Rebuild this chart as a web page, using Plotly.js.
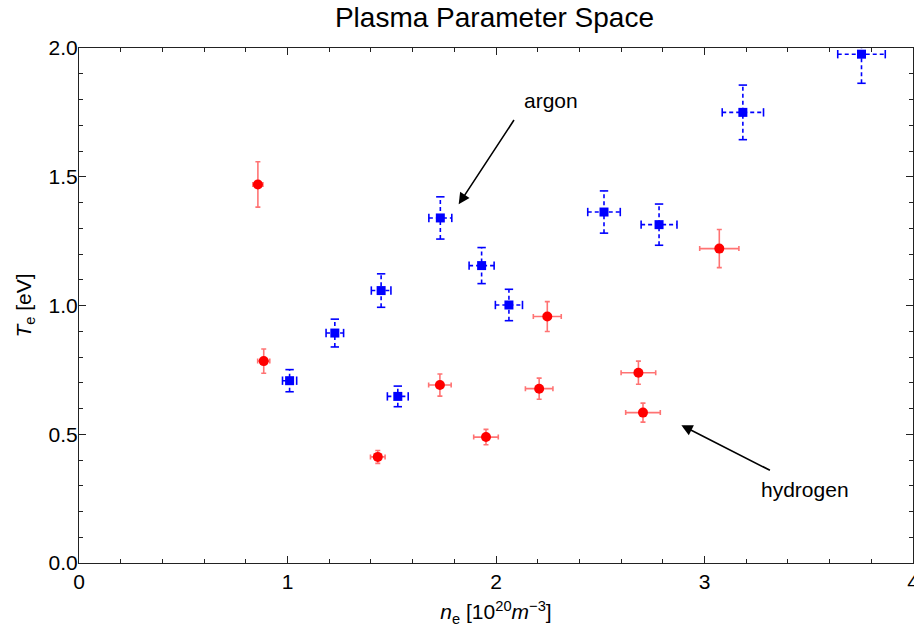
<!DOCTYPE html>
<html>
<head>
<meta charset="utf-8">
<script src="https://cdn.plot.ly/plotly-3.0.1.min.js"></script>
<style>
html,body{margin:0;padding:0;background:#fff;}
#chart{width:914px;height:630px;}
</style>
</head>
<body>
<div id="chart"></div>
<script>
// hydrogen (red circles)
const hX  = [0.858, 0.886, 1.433, 1.731, 1.952, 2.207, 2.246, 2.683, 2.705, 3.071];
const hY  = [1.470, 0.784, 0.412, 0.691, 0.489, 0.677, 0.957, 0.739, 0.584, 1.221];
const hEx = [0.024, 0.029, 0.035, 0.054, 0.059, 0.066, 0.067, 0.083, 0.083, 0.094];
const hEy = [0.088, 0.047, 0.025, 0.043, 0.030, 0.041, 0.058, 0.045, 0.037, 0.074];

// argon (blue squares)
const aX  = [1.010, 1.227, 1.449, 1.529, 1.733, 1.931, 2.062, 2.518, 2.782, 3.184, 3.753];
const aY  = [0.708, 0.893, 1.058, 0.647, 1.340, 1.155, 1.002, 1.363, 1.314, 1.750, 1.976];
const aEx = [0.034, 0.042, 0.047, 0.050, 0.055, 0.060, 0.065, 0.078, 0.086, 0.099, 0.114];
const aEy = [0.043, 0.054, 0.065, 0.040, 0.082, 0.070, 0.061, 0.082, 0.080, 0.106, 0.113];

const xTickVals = [0, 1, 2, 3, 4];
const yTickVals = [0, 0.5, 1.0, 1.5, 2.0];

const FONT = '"Liberation Sans", Arial, sans-serif';
const BLUE = '#0000ff';
const RED = '#ff0000';

// dashed error segments for argon, built from the data arrays
const segX = [], segY = [];
aX.forEach((x, i) => {
  const y = aY[i];
  segX.push(x - aEx[i], x + aEx[i], null, x, x, null);
  segY.push(y, y, null, y - aEy[i], y + aEy[i], null);
});
const capHX = [], capHY = [], capVX = [], capVY = [];
aX.forEach((x, i) => {
  const y = aY[i];
  capHX.push(x - aEx[i], x + aEx[i]); capHY.push(y, y);
  capVX.push(x, x); capVY.push(y - aEy[i], y + aEy[i]);
});

const traces = [
  {
    type: 'scatter', mode: 'lines', x: segX, y: segY,
    line: {color: BLUE, width: 1.6, dash: '4px,3px'},
    hoverinfo: 'skip', showlegend: false
  },
  {
    type: 'scatter', mode: 'markers', x: capHX, y: capHY,
    marker: {symbol: 'line-ns', size: 6, line: {color: BLUE, width: 1.6}},
    hoverinfo: 'skip', showlegend: false
  },
  {
    type: 'scatter', mode: 'markers', x: capVX, y: capVY,
    marker: {symbol: 'line-ew', size: 6, line: {color: BLUE, width: 1.6}},
    hoverinfo: 'skip', showlegend: false
  },
  {
    type: 'scatter', mode: 'markers', name: 'argon', x: aX, y: aY,
    marker: {symbol: 'square', size: 9, color: BLUE},
    showlegend: false
  },
  {
    type: 'scatter', mode: 'markers', name: 'hydrogen', x: hX, y: hY,
    marker: {symbol: 'circle', size: 10, color: RED},
    error_x: {type: 'data', array: hEx, visible: true, color: 'rgba(255,0,0,0.55)', thickness: 1.6, width: 2.5},
    error_y: {type: 'data', array: hEy, visible: true, color: 'rgba(255,0,0,0.55)', thickness: 1.6, width: 2.5},
    showlegend: false
  }
];

const axisCommon = {
  showline: true, linecolor: '#222', linewidth: 1, mirror: 'ticks',
  ticks: 'inside', ticklen: 7, tickwidth: 1, tickcolor: '#222',
  showgrid: false, zeroline: false, ticklabeloverflow: 'allow',
  tickfont: {family: FONT, size: 21, color: '#000'}
};

const layout = {
  width: 914, height: 630,
  margin: {l: 79, r: 1, t: 48, b: 67, pad: 0},
  paper_bgcolor: '#fff', plot_bgcolor: '#fff',
  title: {
    text: 'Plasma Parameter Space',
    font: {family: FONT, size: 28, color: '#000'},
    x: 0.541, xanchor: 'center', xref: 'container',
    y: 0.973, yanchor: 'middle', yref: 'container'
  },
  xaxis: Object.assign({}, axisCommon, {
    range: [0, 4], tickvals: xTickVals, ticktext: xTickVals.map(v => String(v)),
    minor: {dtick: 0.2, ticks: 'inside', ticklen: 4, tickcolor: '#222', tickwidth: 1},
    title: {text: '<i>n</i><sub>e</sub> [10<sup>20</sup><i>m</i><sup>−3</sup>]',
            font: {family: FONT, size: 21, color: '#000'}, standoff: 12}
  }),
  yaxis: Object.assign({}, axisCommon, {
    range: [0, 2], tickvals: yTickVals, ticktext: yTickVals.map(v => v.toFixed(1)),
    ticklabelstandoff: -4,
    minor: {dtick: 0.1, ticks: 'inside', ticklen: 4, tickcolor: '#222', tickwidth: 1},
    title: {text: '<i>T</i><sub>e</sub> [eV]',
            font: {family: FONT, size: 21, color: '#000'}, standoff: 11}
  }),
  annotations: [
    {x: 1.821, y: 1.393, ax: 2.091, ay: 1.726, xref: 'x', yref: 'y', axref: 'x', ayref: 'y',
     text: '', showarrow: true, arrowhead: 2, arrowsize: 1.4, arrowwidth: 1.6, arrowcolor: '#000', standoff: 0},
    {x: 2.262, y: 1.797, xref: 'x', yref: 'y', text: 'argon', showarrow: false,
     font: {family: FONT, size: 21, color: '#000'}, xanchor: 'center', yanchor: 'middle'},
    {x: 2.889, y: 0.535, ax: 3.321, ay: 0.357, xref: 'x', yref: 'y', axref: 'x', ayref: 'y',
     text: '', showarrow: true, arrowhead: 2, arrowsize: 1.4, arrowwidth: 1.6, arrowcolor: '#000', standoff: 0},
    {x: 3.484, y: 0.285, xref: 'x', yref: 'y', text: 'hydrogen', showarrow: false,
     font: {family: FONT, size: 21, color: '#000'}, xanchor: 'center', yanchor: 'middle'}
  ]
};

Plotly.newPlot('chart', traces, layout, {displayModeBar: false, staticPlot: true});
</script>
</body>
</html>
